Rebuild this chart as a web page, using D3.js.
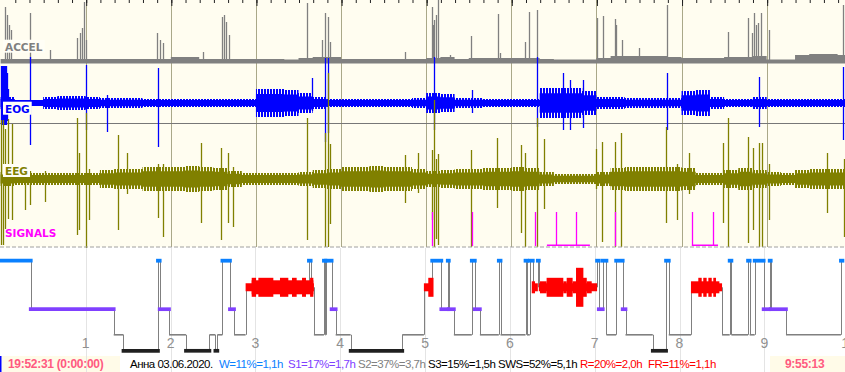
<html>

<head>
  <meta charset="utf-8">
  <style>
    body {
      margin: 0;
      background: white;
    }

    svg {
      display: block;
      font-family: "DejaVu Sans", Arial, sans-serif;
    }
  </style>
</head>

<body>
  <svg id="chart"></svg>
  <script src="https://cdn.jsdelivr.net/npm/d3@7"></script>
  <script>
    // recording length in minutes (9:55:13)
    var durationMin = 595.22;
    var hourMarks = [1, 2, 3, 4, 5, 6, 7, 8, 9];
    var hourLabels = [1, 2, 3, 4, 5, 6, 7, 8, 9, 10];

    // envelopes, one value per 10 minutes
    var accelBand = [3, 3, 3, 3, 3, 3, 3, 3, 3, 3, 3, 3, 5, 5, 3, 3, 3, 3, 3, 3,
      2.5, 4, 5, 5, 3, 3, 3, 3, 3, 3, 4, 5, 3, 4, 4, 4, 4, 4, 3, 2.5,
      2.5, 2.5, 4, 6, 6, 6, 6, 5, 4, 4, 4, 5, 5, 6, 2.5, 2.5, 7, 8, 8, 7];
    var eogBand = [6, 3, 3, 6, 7, 7, 6, 5, 5, 5, 4, 4, 4, 4, 4, 4, 4, 4, 14, 14,
      13, 10, 6, 4, 4, 4, 4, 4, 4, 5, 10, 9, 5, 5, 4, 4, 4, 4, 15, 15,
      15, 12, 6, 6, 5, 5, 5, 5, 12, 13, 6, 4, 4, 6, 4, 4, 4, 4, 4, 4];
    var eegBand = [7, 6, 6, 6, 6, 6, 6, 9, 10, 10, 12, 12, 12, 13, 12, 11, 8, 6, 6, 6,
      6, 7, 9, 10, 12, 12, 13, 12, 12, 10, 8, 9, 10, 10, 11, 11, 12, 11, 7, 5,
      5, 5, 7, 11, 12, 12, 12, 12, 11, 6, 6, 9, 11, 9, 7, 6, 9, 10, 10, 10];

    // spikes: [minute, up] or [minute, up, down]
    var accelSpikes = [[3.1, 55], [4.5, 47], [5.9, 37], [7.3, 32], [20.7, 49], [34.8, 12],
      [53.9, 24], [56, 29], [57.4, 34], [58.8, 60], [60.2, 22], [110.2, 29], [112.4, 22],
      [114.5, 19], [142.7, 10], [156.1, 45], [157.5, 47], [158.9, 40], [161, 27], [216, 59],
      [226.5, 22], [228.7, 49], [230.8, 45], [232.2, 20], [285, 10], [304.1, 55], [304.8, 37],
      [305.5, 42], [306.9, 47], [308.3, 62], [316.8, 7], [331.6, 26], [350.6, 48], [352, 9],
      [369.6, 20], [372.4, 50], [378.1, 52], [420.4, 44], [424.6, 46], [433.1, 43], [433.8, 37],
      [438, 22], [450, 14], [469.7, 57], [512.7, 30], [526.8, 44], [529.6, 29], [531, 49],
      [532.5, 37], [533.9, 39], [536, 49], [541.6, 32], [593.8, 57]];
    var eogSpikes = [[0.2, 37, 22], [0.9, 37, 22], [1.6, 37, 22], [2.3, 37, 22], [3.0, 37, 22],
      [3.7, 37, 22], [4.4, 30, 18], [5.1, 14, 8], [20.7, 46, 42], [60.2, 38, 27], [75, 8, 29],
      [110.9, 35, 44], [219.5, 25, 8], [228.7, 45, 39], [230.8, 45, 30], [305.5, 46, 27],
      [332.3, 13, 10], [378.1, 46, 24], [396.5, 30, 27], [401.5, 23, 27], [410.5, 23, 25],
      [469.7, 30, 27], [534.6, 26, 24], [593.8, 36, 37]];
    var eegSpikes = [[0.5, 59, 66], [1.7, 59, 66], [3.0, 50, 50], [5.2, 60, 40], [8, 55, 41],
      [17.2, 10, 31], [20.7, 8, 26], [31.3, 8, 23], [53.9, 61, 56], [55.3, 26, 51], [60.2, 66, 69],
      [62.3, 10, 41], [82.7, 44, 51], [89.1, 26, 15], [110.9, 15, 39], [114.5, 15, 58],
      [141.3, 36, 44], [155.4, 31, 61], [160.3, 26, 44], [163.8, 12, 48], [216, 61, 61],
      [228.7, 46, 68], [230.8, 106, 68], [232.2, 35, 45], [285, 24, 24], [294.2, 26, 14],
      [304.1, 29, 41], [305.5, 79, 68], [306.9, 20, 60], [308.3, 25, 66], [331.6, 29, 68],
      [349.9, 41, 29], [366.8, 34, 54], [369.6, 26, 68], [378.1, 61, 68], [383, 40, 30],
      [419.7, 30, 10], [423.9, 37, 63], [433.1, 37, 68], [437.3, 46, 68], [469, 52, 44],
      [476.7, 15, 41], [485.2, 26, 15], [509.2, 36, 44], [512.7, 61, 68], [526.8, 42, 64],
      [530.3, 31, 51], [534.6, 36, 68], [536.7, 36, 68], [541.6, 15, 41], [582.5, 26, 34],
      [594.5, 20, 58]];
    var markerSpikes = [304.1, 332.3, 376.7, 391.5, 405.6, 433.1, 487.3, 502.1];
    var markerRuns = [[385.1, 415.4], [487.3, 505.7]];

    // hypnogram: [start minute, stage]
    var hypnogram = [[0, "W"], [21.1, "S1"], [79.8, "S2"], [86.7, "S3"], [111.1, "W"], [112.3, "S1"],
      [118.9, "S2"], [130.9, "S3"], [147.5, "S2"], [151.7, "S3"], [153.1, "S2"], [156.7, "W"],
      [162, "S1"], [164.9, "S2"], [173.1, "R"], [217.9, "W"], [219.1, "R"], [221.4, "S2"],
      [228.5, "W"], [229.5, "S2"], [230, "W"], [233.9, "S1"], [236.8, "S2"], [247.4, "S3"],
      [283.9, "S2"], [299.2, "R"], [305.1, "W"], [311.5, "S1"], [316.1, "W"], [316.8, "S1"],
      [320.4, "S2"], [333.1, "W"], [335.2, "S1"], [338.8, "S2"], [352.2, "W"], [353.4, "S2"],
      [371.1, "W"], [372.1, "S2"], [374.1, "W"], [376.2, "R"], [379.8, "W"], [380.5, "R"],
      [421.7, "W"], [422.9, "S1"], [425.7, "W"], [428.3, "S2"], [435.2, "W"], [439.8, "S1"],
      [441.8, "S2"], [461.1, "S3"], [470.5, "W"], [472.4, "S2"], [488.2, "R"], [510.1, "S2"],
      [515.5, "W"], [516.7, "S2"], [528.5, "W"], [529.6, "S2"], [533.2, "W"], [539.5, "S1"],
      [543.8, "W"], [544.5, "S1"], [555.3, "S2"], [594.2, "W"]];
    // REM intensity blocks: [start minute, end minute, strength]
    var remBursts = [[177.4, 221, 7], [177.4, 180.5, 9.5], [182.1, 192.7, 9.5], [197.4, 203.3, 9.5],
      [205.9, 209.2, 9.5], [213, 215.8, 9.5], [218.7, 221, 9.5], [302.3, 306, 9.5],
      [375.5, 377.8, 6], [381.3, 386, 6], [386, 397.8, 9.5], [397.8, 400.2, 6], [400.2, 404.4, 9.5],
      [404.4, 406.8, 6], [406.8, 412, 19.5], [406.8, 414.4, 9.5], [414.4, 417.9, 6],
      [488.1, 508.2, 6], [493.3, 495.7, 9.5], [496.8, 499.2, 9.5], [500.4, 502.8, 9.5], [503.9, 505.8, 9.5]];

    var statTexts = ["Анна 03.06.2020.", "W=11%=1,1h", "S1=17%=1,7h", "S2=37%=3,7h",
      "S3=15%=1,5h", "SWS=52%=5,1h", "R=20%=2,0h", "FR=11%=1,1h"];
    var statColors = ["#000000", "#0a80ff", "#8040ff", "#808080", "#000000", "#000000", "#ff0000", "#ff0000"];

    var W = 845, H = 372;
    var svg = d3.select("#chart").attr("width", W).attr("height", H);

    var xs = d3.scaleLinear().domain([0, durationMin]).range([0.6, 845]);
    var xh = d3.scaleLinear().domain([0, durationMin]).range([0.9, 842.4]);
    var px = function (v) { return Math.round(v) + 0.5; };

    var yAccel = d3.scaleLinear().domain([0, 60]).range([62, 2]);
    var yEog = d3.scaleLinear().domain([-50, 50]).range([153, 53]);
    var yEeg = d3.scaleLinear().domain([-70, 70]).range([249, 109]);
    var yMark = d3.scaleLinear().domain([0, 34]).range([246, 212]);

    // hatch patterns make the envelope edge look like dense samples
    var defs = svg.append("defs");
    [["hatchBlue", "#0000ff"], ["hatchOlive", "#808000"]].forEach(function (p) {
      var pat = defs.append("pattern").attr("id", p[0])
        .attr("patternUnits", "userSpaceOnUse").attr("width", 3).attr("height", 4);
      pat.append("rect").attr("width", 2).attr("height", 4).attr("fill", p[1]);
    });

    // ---- signal panel ----
    svg.append("rect").attr("width", W).attr("height", 247).attr("fill", "#fffdf0");

    svg.append("g").selectAll("line").data(hourMarks).join("line")
      .attr("x1", d => px(xs(d * 60))).attr("x2", d => px(xs(d * 60)))
      .attr("y1", 0).attr("y2", 247)
      .attr("stroke", "#aaa888");

    svg.append("line").attr("x1", 0).attr("x2", W).attr("y1", 123.5).attr("y2", 123.5)
      .attr("stroke", "#777");

    function bandPoints(band) {
      var pts = band.map(function (v, i) { return { m: i * 10, v: v }; });
      pts.push({ m: durationMin, v: band[band.length - 1] });
      return pts;
    }

    // envelope: hatched outer fringe plus a dense core
    function drawBand(band, yScale, color, hatch) {
      var pts = bandPoints(band);
      svg.append("path").datum(pts)
        .attr("d", d3.area().curve(d3.curveStepAfter)
          .x(d => xs(d.m)).y0(d => yScale(-d.v)).y1(d => yScale(d.v)))
        .attr("fill", "url(#" + hatch + ")");
      svg.append("path").datum(pts)
        .attr("d", d3.area().curve(d3.curveStepAfter)
          .x(d => xs(d.m)).y0(d => yScale(-Math.max(3, d.v * 0.65))).y1(d => yScale(Math.max(3, d.v * 0.65))))
        .attr("fill", color);
    }

    // accel
    svg.append("path").datum(bandPoints(accelBand))
      .attr("d", d3.area().curve(d3.curveStepAfter)
        .x(d => xs(d.m)).y0(yAccel(-1.5)).y1(d => yAccel(d.v)))
      .attr("fill", "#808080");
    svg.append("g").selectAll("line").data(accelSpikes).join("line")
      .attr("x1", d => px(xs(d[0]))).attr("x2", d => px(xs(d[0])))
      .attr("y1", yAccel(0)).attr("y2", d => yAccel(d[1]))
      .attr("stroke", "#808080").attr("stroke-width", 1.3);

    // eog
    drawBand(eogBand, yEog, "#0000ff", "hatchBlue");
    svg.append("g").selectAll("line").data(eogSpikes).join("line")
      .attr("x1", d => px(xs(d[0]))).attr("x2", d => px(xs(d[0])))
      .attr("y1", d => yEog(d[1])).attr("y2", d => yEog(-d[2]))
      .attr("stroke", "#0000ff").attr("stroke-width", 1.3);

    // eeg
    drawBand(eegBand, yEeg, "#808000", "hatchOlive");
    svg.append("g").selectAll("line").data(eegSpikes).join("line")
      .attr("x1", d => px(xs(d[0]))).attr("x2", d => px(xs(d[0])))
      .attr("y1", d => yEeg(d[1])).attr("y2", d => yEeg(-d[2]))
      .attr("stroke", "#808000").attr("stroke-width", 1.3);

    // signals
    svg.append("g").selectAll("rect").data(markerRuns).join("rect")
      .attr("x", d => xs(d[0])).attr("width", d => xs(d[1]) - xs(d[0]))
      .attr("y", yMark(1.5)).attr("height", yMark(0) - yMark(1.5))
      .attr("fill", "#ff00ff");
    svg.append("g").selectAll("line").data(markerSpikes).join("line")
      .attr("x1", d => px(xs(d))).attr("x2", d => px(xs(d)))
      .attr("y1", yMark(0)).attr("y2", yMark(34))
      .attr("stroke", "#ff00ff").attr("stroke-width", 1.3);

    // trace labels
    var traceLabels = [
      { name: "ACCEL", color: "#808080", y: 50.7 },
      { name: "EOG", color: "#0000ff", y: 112.7 },
      { name: "EEG", color: "#808000", y: 175 },
      { name: "SIGNALS", color: "#ff00ff", y: 236.7 }
    ];
    traceLabels.forEach(function (l) {
      var g = svg.append("g");
      var t = g.append("text").attr("x", 5).attr("y", l.y)
        .attr("font-size", "10.5px").attr("font-weight", "bold")
        .attr("fill", l.color).text(l.name);
      var b = t.node().getBBox();
      if (l.name != "SIGNALS") {
        g.insert("rect", "text").attr("x", b.x - 2).attr("y", b.y - 1)
          .attr("width", b.width + 4).attr("height", b.height + 1)
          .attr("fill", "#fffef6");
      }
    });

    svg.append("line").attr("x1", 0).attr("x2", W).attr("y1", 247).attr("y2", 247)
      .attr("stroke", "#a0a0a0").attr("stroke-dasharray", "4,2");

    // ticks along the top, every 10 minutes
    var minorTicks = d3.range(10, durationMin, 10);
    svg.append("g").attr("transform", "translate(0.5,0)")
      .call(d3.axisBottom(xs).tickValues(minorTicks).tickSize(3).tickFormat(""))
      .call(g => g.select(".domain").remove())
      .selectAll("line").attr("stroke", "#222");
    svg.append("g").attr("transform", "translate(0.5,0)")
      .call(d3.axisBottom(xs).tickValues(hourMarks.map(d => d * 60)).tickSize(6).tickFormat(""))
      .call(g => g.select(".domain").remove())
      .selectAll("line").attr("stroke", "#222");

    // ---- hypnogram ----
    var stageY = d3.scaleOrdinal().domain(["W", "R", "S1", "S2", "S3"])
      .range([260.7, 287.3, 309.2, 334.8, 350.8]);
    var stageColor = d3.scaleOrdinal().domain(["W", "R", "S1", "S2", "S3"])
      .range(["#0a80ff", "#ff0000", "#8040ff", "#808080", "#202020"]);
    var stageWidth = d3.scaleOrdinal().domain(["W", "R", "S1", "S2", "S3"])
      .range([3.8, 8, 3.7, 1.6, 3.7]);

    // bottom boxes
    svg.append("rect").attr("x", 2).attr("y", 356).attr("width", 118).attr("height", 16).attr("fill", "#fffbe8");
    svg.append("rect").attr("x", 0).attr("y", 356).attr("width", 1.5).attr("height", 16).attr("fill", "#0000ff");
    svg.append("rect").attr("x", 770).attr("y", 356).attr("width", 75).attr("height", 16).attr("fill", "#fffbe8");

    svg.append("g").selectAll("line").data(hourMarks).join("line")
      .attr("x1", d => px(xh(d * 60))).attr("x2", d => px(xh(d * 60)))
      .attr("y1", 248).attr("y2", H)
      .attr("stroke", "#e4e4e4");

    svg.append("g").selectAll("text").data(hourLabels).join("text")
      .attr("x", d => xh(d * 60)).attr("y", 348)
      .attr("text-anchor", "middle")
      .attr("font-family", "Liberation Sans, Arial, sans-serif")
      .attr("font-size", "14px").attr("fill", "#909090")
      .text(d => d);

    var segs = hypnogram.map(function (d, i) {
      var end = i < hypnogram.length - 1 ? hypnogram[i + 1][0] : durationMin;
      return { start: d[0], end: end, stage: d[1], prev: i > 0 ? hypnogram[i - 1][1] : null };
    });

    svg.append("g").selectAll("line").data(segs.filter(d => d.prev)).join("line")
      .attr("x1", d => px(xh(d.start))).attr("x2", d => px(xh(d.start)))
      .attr("y1", d => stageY(d.prev)).attr("y2", d => stageY(d.stage))
      .attr("stroke", "#808080");

    svg.append("g").selectAll("rect").data(remBursts).join("rect")
      .attr("x", d => xh(d[0])).attr("width", d => xh(d[1]) - xh(d[0]))
      .attr("y", d => stageY("R") - d[2]).attr("height", d => 2 * d[2])
      .attr("fill", "#ff0000");

    svg.append("g").selectAll("line").data(segs).join("line")
      .attr("x1", d => xh(d.start)).attr("x2", d => xh(d.end))
      .attr("y1", d => stageY(d.stage)).attr("y2", d => stageY(d.stage))
      .attr("stroke", d => stageColor(d.stage))
      .attr("stroke-width", d => stageWidth(d.stage))
      .attr("stroke-linecap", d => (d.stage == "S2" || d.stage == "R") ? "butt" : "square");

    // ---- bottom text ----
    var statX = [130, 219, 288, 358, 428, 498, 580, 648];
    svg.append("g").selectAll("text").data(statTexts).join("text")
      .attr("x", (d, i) => statX[i]).attr("y", 368)
      .attr("font-family", "Liberation Sans, Arial, sans-serif")
      .attr("font-size", "11.5px").attr("letter-spacing", "-0.5px")
      .attr("fill", (d, i) => statColors[i])
      .text(d => d);

    svg.append("text").attr("x", 8).attr("y", 368)
      .attr("font-family", "Liberation Sans, Arial, sans-serif")
      .attr("font-size", "12px").attr("font-weight", "bold").attr("letter-spacing", "-0.3px")
      .attr("fill", "#ff5a80").text("19:52:31 (0:00:00)");
    svg.append("text").attr("x", 785).attr("y", 368)
      .attr("font-family", "Liberation Sans, Arial, sans-serif")
      .attr("font-size", "12px").attr("font-weight", "bold").attr("letter-spacing", "-0.3px")
      .attr("fill", "#ff5a80").text("9:55:13");
  </script>
</body>

</html>
